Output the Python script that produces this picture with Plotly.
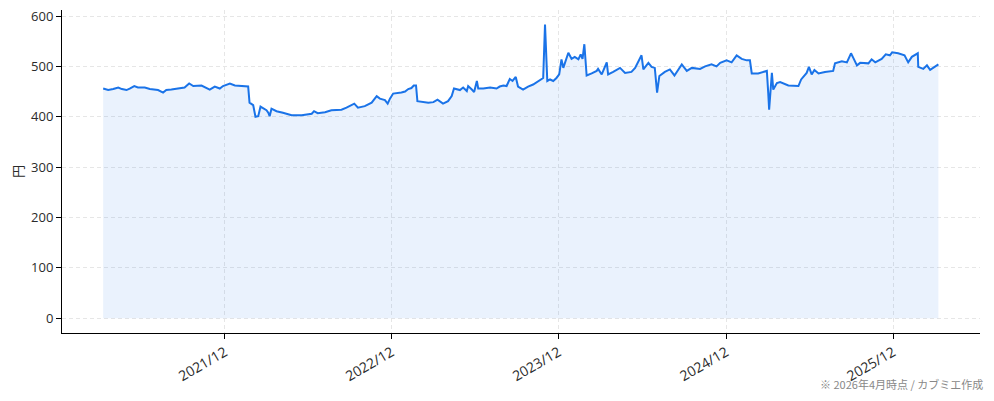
import plotly.graph_objects as go

# 株価の推移（目視で読み取った値）
dates = [
    "2021-03-10", "2021-03-21", "2021-04-01", "2021-04-12", "2021-04-20", "2021-04-30",
    "2021-05-07", "2021-05-17", "2021-05-25", "2021-06-09", "2021-06-20", "2021-07-01",
    "2021-07-08", "2021-07-19", "2021-07-26", "2021-08-06", "2021-08-21", "2021-09-04",
    "2021-09-14", "2021-09-23", "2021-10-11", "2021-10-29", "2021-11-09", "2021-11-20",
    "2021-11-27", "2021-12-12", "2021-12-23", "2022-01-06", "2022-01-21", "2022-01-24",
    "2022-02-01", "2022-02-06", "2022-02-12", "2022-02-17", "2022-02-23", "2022-03-02",
    "2022-03-06", "2022-03-09", "2022-03-13", "2022-03-24", "2022-04-07", "2022-04-26",
    "2022-05-18", "2022-06-09", "2022-06-14", "2022-06-22", "2022-07-08", "2022-07-22",
    "2022-08-13", "2022-08-24", "2022-09-10", "2022-09-18", "2022-10-03", "2022-10-18",
    "2022-10-29", "2022-11-05", "2022-11-16", "2022-11-22", "2022-11-27", "2022-12-04",
    "2022-12-22", "2022-12-30", "2023-01-06", "2023-01-13", "2023-01-18", "2023-01-23",
    "2023-01-26", "2023-02-04", "2023-02-19", "2023-03-02", "2023-03-11", "2023-03-23",
    "2023-04-03", "2023-04-11", "2023-04-16", "2023-04-29", "2023-05-06", "2023-05-14",
    "2023-05-17", "2023-05-25", "2023-05-30", "2023-06-05", "2023-06-08", "2023-06-19",
    "2023-07-04", "2023-07-18", "2023-07-25", "2023-08-02", "2023-08-09", "2023-08-16",
    "2023-08-22", "2023-08-29", "2023-09-03", "2023-09-14", "2023-09-25", "2023-10-06",
    "2023-10-17", "2023-10-28", "2023-11-01", "2023-11-06", "2023-11-12", "2023-11-19",
    "2023-11-26", "2023-12-02", "2023-12-07", "2023-12-11", "2023-12-22", "2023-12-29",
    "2024-01-05", "2024-01-13", "2024-01-18", "2024-01-22", "2024-01-26", "2024-01-31",
    "2024-02-11", "2024-02-22", "2024-02-25", "2024-03-04", "2024-03-15", "2024-03-18",
    "2024-03-29", "2024-04-09", "2024-04-13", "2024-04-24", "2024-05-08", "2024-05-16",
    "2024-05-30", "2024-06-03", "2024-06-14", "2024-06-21", "2024-06-28", "2024-07-03",
    "2024-07-08", "2024-07-20", "2024-07-31", "2024-08-10", "2024-08-26", "2024-09-06",
    "2024-09-17", "2024-10-05", "2024-10-16", "2024-10-30", "2024-11-10", "2024-11-18",
    "2024-12-02", "2024-12-13", "2024-12-24", "2025-01-04", "2025-01-15", "2025-01-22",
    "2025-01-26", "2025-02-09", "2025-02-28", "2025-03-03", "2025-03-05", "2025-03-11",
    "2025-03-14", "2025-03-22", "2025-03-29", "2025-04-16", "2025-05-08", "2025-05-14",
    "2025-05-26", "2025-05-31", "2025-06-06", "2025-06-12", "2025-06-21", "2025-07-05",
    "2025-07-23", "2025-07-27", "2025-08-11", "2025-08-22", "2025-08-31", "2025-09-05",
    "2025-09-13", "2025-09-20", "2025-10-08", "2025-10-15", "2025-10-23", "2025-11-06",
    "2025-11-15", "2025-11-24", "2025-11-29", "2025-12-12", "2025-12-26", "2026-01-03",
    "2026-01-11", "2026-01-24", "2026-01-25", "2026-02-05", "2026-02-13", "2026-02-20",
    "2026-02-27", "2026-03-03", "2026-03-10",
]
prices = [
    456, 453, 455, 458, 455, 453,
    456, 461, 458, 458, 455, 454,
    453, 448, 453, 454, 456, 458,
    466, 461, 462, 454, 460, 456,
    461, 466, 462, 461, 460, 428,
    423, 400, 401, 420, 417, 413,
    408, 401, 416, 411, 408, 403,
    403, 406, 411, 407, 409, 413,
    414, 418, 426, 418, 421, 428,
    441, 436, 433, 426, 436, 446,
    448, 450, 455, 457, 462, 462,
    431, 430, 428, 429, 434, 426,
    431, 441, 456, 453, 458, 451,
    461, 454, 449, 471, 456, 456,
    458, 456, 460, 462, 461, 475,
    471, 479, 460, 454, 460, 464,
    471, 477, 583, 471, 474, 471,
    477, 484, 514, 497, 527, 515,
    519, 514, 524, 515, 544, 482,
    486, 491, 495, 484, 508, 484,
    489, 494, 497, 487, 489, 497,
    522, 494, 507, 499, 497, 448,
    481, 489, 494, 482, 504, 491,
    497, 495, 500, 504, 500, 507,
    512, 508, 522, 515, 512, 512,
    486, 486, 491, 448, 414, 487,
    454, 467, 469, 462, 461, 474,
    487, 499, 484, 493, 486, 489,
    491, 506, 510, 508, 526, 517,
    502, 507, 506, 514, 508, 515,
    524, 522, 528, 526, 522, 508,
    519, 526, 499, 495, 502, 493,
    497, 499, 504,
]

font = "Open Sans, Noto Sans CJK JP"
font_jp = "Noto Sans CJK JP"

fig = go.Figure()
fig.add_trace(go.Scatter(
    x=dates, y=prices, mode="lines",
    line=dict(color="#1a73e8", width=2),
    fill="tozeroy", fillcolor="rgba(26,115,232,0.09)",
    showlegend=False,
))

# ページ本体の余白(8px)ぶんを差し引いたサイズ
fig.update_layout(
    width=986, height=393,
    margin=dict(l=54, r=14, t=2, b=68),
    plot_bgcolor="white", paper_bgcolor="white",
    font=dict(family=font, size=13, color="#2b2b2b"),
)
fig.update_xaxes(
    range=["2020-12-10", "2026-06-09"],
    tick0="2021-12-01", dtick="M12", tickformat="%Y/%m",
    tickangle=-30, automargin=False, tickfont=dict(size=14),
    showline=True, linecolor="black", linewidth=1,
    ticks="outside", ticklen=5, tickcolor="black",
    showgrid=True, gridcolor="#e6e6e6", griddash="4px,3px", gridwidth=1,
)
fig.update_yaxes(
    range=[-29.5, 612], automargin=False, ticklabeloverflow="allow",
    tickvals=[0, 100, 200, 300, 400, 500, 600],
    title=dict(text="円", standoff=12, font=dict(family=font_jp, size=13)),
    showline=True, linecolor="black", linewidth=1,
    ticks="outside", ticklen=5, tickcolor="black",
    showgrid=True, gridcolor="#e6e6e6", griddash="4px,3px", gridwidth=1,
    zeroline=False,
)
fig.add_annotation(
    text="※ 2026年4月時点 / カブミエ作成",
    xref="paper", yref="paper", x=1.0, y=-0.158,
    xanchor="right", yanchor="middle", xshift=5,
    showarrow=False, font=dict(family=font_jp, size=11, color="#888888"),
)

fig.write_html("out.html")
